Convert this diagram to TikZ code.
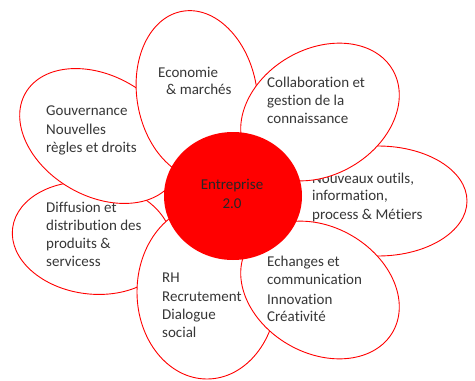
\documentclass[tikz,border=0pt]{standalone}
\usepackage{fontspec}
\setmainfont{Carlito}[Ligatures={NoCommon}]
\definecolor{txt}{RGB}{55,55,55}
\tikzset{
  petal/.style={draw=red, fill=white, line width=0.9pt},
  lbl/.style={font=\fontsize{15}{18}\selectfont, text=txt, inner sep=0pt, anchor=base west},
  hub/.style={fill=red, draw=none},
  hublbl/.style={font=\fontsize{15}{18}\selectfont, text=black!85, inner sep=0pt, anchor=base}
}
\begin{document}
\begin{tikzpicture}[x=1pt,y=-1pt]
\useasboundingbox (0,0) rectangle (475,381);
% Diffusion
\filldraw[petal, rotate around={-7:(92,238)}] (92,238) ellipse [x radius=80pt, y radius=56pt];
\node[lbl] (d1) at (46,212) {Diffusion et};
\node[lbl] (d2) at (46,230) {distribution des};
\node[lbl] (d3) at (46,248) {produits \&};
\node[lbl] (d4) at (46,266) {servicess};
% RH
\filldraw[petal] (207,292) ellipse [x radius=70pt, y radius=87pt];
\node[lbl] (r1) at (162,282) {RH};
\node[lbl] (r2) at (162,301) {Recrutement};
\node[lbl] (r3) at (162,319) {Dialogue};
\node[lbl] (r4) at (162,337) {social};
% Nouveaux
\filldraw[petal] (378,201) ellipse [x radius=89pt, y radius=55pt];
\node[lbl] (n1) at (312,183) {Nouveaux outils,};
\node[lbl] (n2) at (312,200) {information,};
\node[lbl] (n3) at (312,219) {process \& Métiers};
% Echanges
\filldraw[petal, rotate around={-30:(320,290)}] (320,290) ellipse [x radius=84pt, y radius=63pt];
\node[lbl] (e1) at (267,266) {Echanges et};
\node[lbl] (e2) at (267,284) {communication};
\node[lbl] (e3) at (267,304) {Innovation};
\node[lbl] (e4) at (267,321) {Créativité};
% Gouvernance
\filldraw[petal, rotate around={-30:(100,136)}] (100,136) ellipse [x radius=86pt, y radius=60pt];
\node[lbl] (g1) at (46,115) {Gouvernance};
\node[lbl] (g2) at (46,134) {Nouvelles};
\node[lbl] (g3) at (46,152) {règles et droits};
% Economie
\filldraw[petal, rotate around={10:(197,95)}] (197,95) ellipse [x radius=60pt, y radius=85pt];
\node[lbl] (ec1) at (158,77) {Economie};
\node[lbl] (ec2) at (166,94) {\& marchés};
% Collaboration
\filldraw[petal, rotate around={30:(320,112)}] (320,112) ellipse [x radius=84pt, y radius=63pt];
\node[lbl] (c1) at (267,87) {Collaboration et};
\node[lbl] (c2) at (267,105) {gestion de la};
\node[lbl] (c3) at (267,123) {connaissance};
% Hub
\fill[hub] (233,196) ellipse [x radius=69pt, y radius=64pt];
\node[hublbl] (h1) at (232,189) {Entreprise};
\node[hublbl] (h2) at (232,208) {2.0};
\end{tikzpicture}
\end{document}
